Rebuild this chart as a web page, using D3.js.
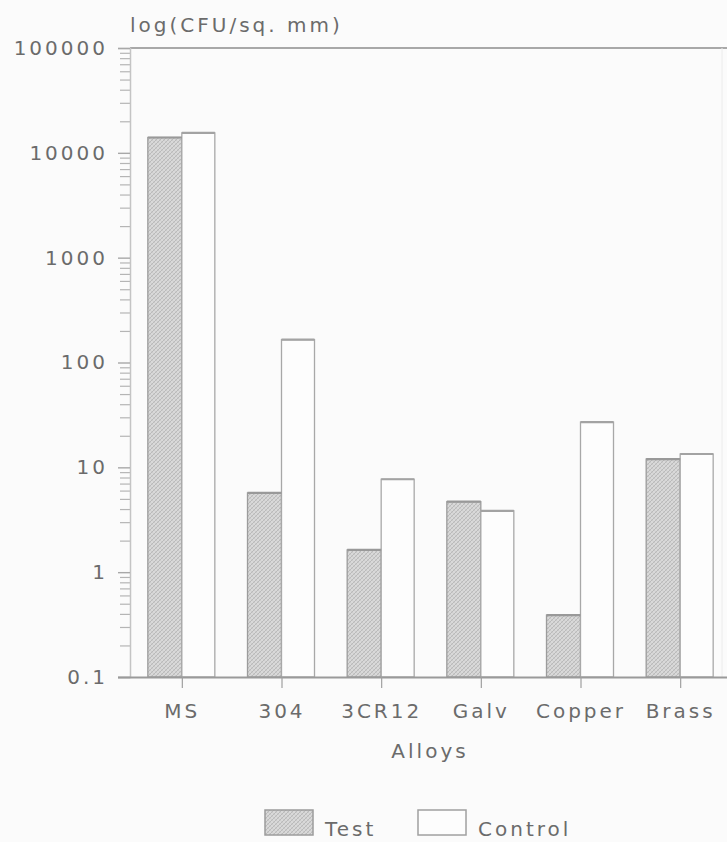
<!DOCTYPE html>
<html>
<head>
<meta charset="utf-8">
<script src="https://cdn.jsdelivr.net/npm/d3@7"></script>
<style>
  html, body { margin: 0; padding: 0; background: #fbfbfb; }
  svg { display: block; }
  text { font-family: "DejaVu Sans", sans-serif; fill: #6b6b6b; letter-spacing: 3px; }
</style>
</head>
<body>
<svg id="chart" width="727" height="842"></svg>
<script>
// ---- data ----
const categories = ["MS", "304", "3CR12", "Galv", "Copper", "Brass"];
const testValues = [14000, 5.7, 1.63, 4.7, 0.39, 12.0];
const controlValues = [15500, 165, 7.7, 3.85, 27, 13.4];
const yTickValues = [0.1, 1, 10, 100, 1000, 10000, 100000];
const yTickLabels = ["0.1", "1", "10", "100", "1000", "10000", "100000"];
const seriesNames = ["Test", "Control"];
const yTitle = "log(CFU/sq. mm)";
const xTitle = "Alloys";

// ---- layout ----
const W = 727, H = 842;
const m = { left: 130, right: 730, top: 48, bottom: 677 };
const svg = d3.select("#chart");
svg.append("rect").attr("width", W).attr("height", H).attr("fill", "#fbfbfb");

const defs = svg.append("defs");
const pat = defs.append("pattern").attr("id", "hatch")
  .attr("patternUnits", "userSpaceOnUse").attr("width", 4).attr("height", 4);
pat.append("rect").attr("width", 4).attr("height", 4).attr("fill", "#d9d9d9");
pat.append("path").attr("d", "M0,4 L4,0 M-1,1 L1,-1 M3,5 L5,3").attr("stroke", "#b3b3b3").attr("stroke-width", 0.8);
pat.append("path").attr("d", "M0,0 L4,4").attr("stroke", "#c2c2c2").attr("stroke-width", 0.6);

const y = d3.scaleLog().domain([0.1, 100000]).range([m.bottom, m.top]);
const xc = d3.scalePoint().domain(categories).range([m.left + 2, m.right]).padding(0.5);
const barW = 34;

// frame: top line and faint right line
svg.append("line").attr("x1", m.left).attr("x2", W).attr("y1", m.top).attr("y2", m.top)
  .attr("stroke", "#a8a8a8").attr("stroke-width", 2);
svg.append("line").attr("x1", 722).attr("x2", 722).attr("y1", m.top).attr("y2", m.bottom)
  .attr("stroke", "#ececec").attr("stroke-width", 1);

// minor y ticks
const minorVals = [];
yTickValues.slice(0, -1).forEach(d => { for (let k = 2; k <= 9; k++) minorVals.push(d * k); });
const gMinor = svg.append("g").attr("transform", `translate(${m.left},0)`)
  .call(d3.axisLeft(y).tickValues(minorVals).tickSize(10).tickFormat(""));
gMinor.select(".domain").remove();
gMinor.selectAll(".tick line").attr("stroke", "#b5b5b5").attr("stroke-width", 1.2);

// major y axis
const gy = svg.append("g").attr("transform", `translate(${m.left},0)`)
  .call(d3.axisLeft(y).tickValues(yTickValues).tickSize(12).tickPadding(10)
    .tickFormat((d, i) => yTickLabels[i]));
gy.select(".domain").attr("stroke", "#c4c4c4").attr("stroke-width", 1.5);
gy.selectAll(".tick line").attr("stroke", "#a8a8a8").attr("stroke-width", 1.4);
gy.selectAll(".tick text").attr("font-size", 20).attr("fill", "#6b6b6b")
  .style("font-family", "'DejaVu Sans', sans-serif").style("letter-spacing", "3px");

// bars
const groups = svg.append("g").selectAll("g").data(categories).join("g");
groups.append("rect")
  .attr("x", (d) => xc(d) - barW)
  .attr("y", (d, i) => y(testValues[i]))
  .attr("width", barW)
  .attr("height", (d, i) => m.bottom - y(testValues[i]))
  .attr("fill", "url(#hatch)").attr("stroke", "#9c9c9c").attr("stroke-width", 1.3);
groups.append("rect")
  .attr("x", (d) => xc(d))
  .attr("y", (d, i) => y(controlValues[i]))
  .attr("width", barW - 1)
  .attr("height", (d, i) => m.bottom - y(controlValues[i]))
  .attr("fill", "#fdfdfd").attr("stroke", "#a8a8a8").attr("stroke-width", 1.3);
// darker top edges
groups.append("line")
  .attr("x1", d => xc(d) - barW).attr("x2", d => xc(d))
  .attr("y1", (d, i) => y(testValues[i])).attr("y2", (d, i) => y(testValues[i]))
  .attr("stroke", "#999").attr("stroke-width", 2.2);
groups.append("line")
  .attr("x1", d => xc(d)).attr("x2", d => xc(d) + barW - 1)
  .attr("y1", (d, i) => y(controlValues[i])).attr("y2", (d, i) => y(controlValues[i]))
  .attr("stroke", "#a3a3a3").attr("stroke-width", 2.2);

// x axis
const gx = svg.append("g").attr("transform", `translate(0,${m.bottom})`)
  .call(d3.axisBottom(xc).tickSize(11).tickPadding(16));
gx.select(".domain").attr("d", `M${m.left - 12},0.5H${W}`).attr("stroke", "#9a9a9a").attr("stroke-width", 2);
gx.selectAll(".tick line").attr("stroke", "#a0a0a0").attr("stroke-width", 1.2);
gx.selectAll(".tick text").attr("font-size", 20).attr("fill", "#6b6b6b")
  .style("font-family", "'DejaVu Sans', sans-serif").style("letter-spacing", "3px");

// titles
svg.append("text").attr("x", m.left).attr("y", 32).attr("font-size", 20).text(yTitle);
svg.append("text").attr("x", 430).attr("y", 758).attr("text-anchor", "middle").attr("font-size", 20).text(xTitle);

// legend
const legend = [
  { name: seriesNames[0], x: 265, fill: "url(#hatch)", stroke: "#9c9c9c" },
  { name: seriesNames[1], x: 418, fill: "#fdfdfd", stroke: "#a0a0a0" }
];
const lg = svg.append("g").selectAll("g").data(legend).join("g");
lg.append("rect").attr("x", d => d.x).attr("y", 810).attr("width", 48).attr("height", 25)
  .attr("fill", d => d.fill).attr("stroke", d => d.stroke).attr("stroke-width", 1.5);
lg.append("text").attr("x", d => d.x + 60).attr("y", 836).attr("font-size", 20).text(d => d.name);
</script>
</body>
</html>
